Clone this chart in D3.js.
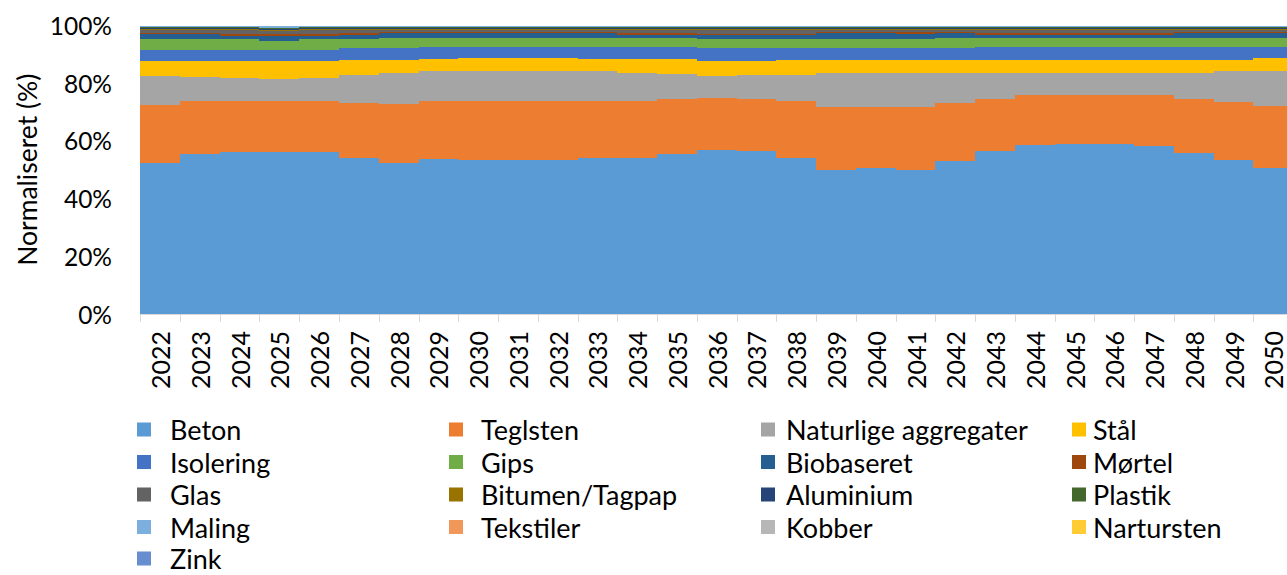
<!DOCTYPE html>
<html>
<head>
<meta charset="utf-8">
<script src="https://cdn.jsdelivr.net/npm/d3@7"></script>
<style>
  html, body { margin: 0; padding: 0; background: #fff; overflow: hidden; }
  svg { display: block; }
  text { font-family: Lato, "Open Sans", sans-serif; fill: #000; }
</style>
</head>
<body>
<svg id="chart" width="1287" height="575"></svg>
<script>
// Materialeforbrug fordelt på materialer, normaliseret pr. år (andel i %)
const years = [2022, 2023, 2024, 2025, 2026, 2027, 2028, 2029, 2030, 2031,
               2032, 2033, 2034, 2035, 2036, 2037, 2038, 2039, 2040, 2041,
               2042, 2043, 2044, 2045, 2046, 2047, 2048, 2049, 2050];

const beton      = [52.5, 55.6, 56.2, 56.2, 56.2, 54.1, 52.5, 53.9, 53.3, 53.3,
                    53.3, 54.2, 54.2, 55.6, 57.0, 56.4, 54.2, 50.1, 50.5, 50.1,
                    53.2, 56.7, 58.5, 58.9, 58.9, 58.2, 56.0, 53.5, 50.5];
const teglsten   = [20.1, 18.1, 17.8, 17.8, 17.8, 19.2, 20.4, 20.0, 20.4, 20.4,
                    20.4, 19.8, 19.5, 18.8, 17.8, 18.0, 19.5, 21.6, 21.2, 21.6,
                    20.1, 18.0, 17.4, 17.0, 17.0, 17.7, 18.4, 20.1, 21.6];
const naturligeAggregater = [9.9, 8.4, 7.8, 7.4, 7.8, 9.6, 10.7, 10.2, 10.7, 10.7,
                    10.4, 10.1, 9.9, 8.9, 7.7, 8.4, 9.1, 11.9, 11.9, 11.9,
                    10.3, 8.9, 7.7, 7.7, 7.7, 7.7, 9.2, 10.5, 12.3];
const staal      = [5.4, 5.8, 6.1, 6.5, 6.1, 5.3, 4.6, 4.4, 4.3, 4.3,
                    4.6, 4.4, 4.9, 5.2, 5.4, 5.1, 5.4, 4.6, 4.6, 4.6,
                    4.6, 4.6, 4.6, 4.6, 4.6, 4.6, 4.6, 4.1, 4.3];
const isolering  = [3.8, 3.8, 3.8, 3.8, 3.8, 3.9, 3.9, 4.0, 3.8, 3.8,
                    3.8, 4.0, 4.0, 4.0, 4.2, 4.2, 3.9, 3.9, 3.9, 3.9,
                    3.9, 4.3, 4.3, 4.3, 4.3, 4.3, 4.3, 4.3, 3.8];
const gips       = [3.5, 3.5, 3.5, 3.1, 3.5, 3.1, 3.5, 3.1, 3.1, 3.1,
                    3.1, 3.1, 3.1, 3.1, 3.1, 3.1, 3.1, 3.1, 3.1, 3.1,
                    3.5, 3.1, 3.1, 3.1, 3.1, 3.1, 3.1, 3.1, 3.1];
const biobaseret = [1.8, 1.8, 1.2, 1.6, 1.2, 1.7, 1.7, 1.7, 1.7, 1.7,
                    1.7, 1.7, 1.2, 1.2, 1.4, 1.4, 1.4, 2.1, 2.1, 1.9,
                    1.7, 1.1, 1.1, 1.1, 1.1, 1.1, 1.7, 1.7, 1.7];
const moertel    = [0.6, 0.6, 0.6, 0.6, 0.6, 0.6, 0.6, 0.6, 0.6, 0.6,
                    0.6, 0.6, 0.6, 0.6, 0.6, 0.6, 0.6, 0.6, 0.6, 0.6,
                    0.6, 0.6, 0.6, 0.6, 0.6, 0.6, 0.6, 0.6, 0.6];
const glas       = [0.9, 0.9, 1.5, 1.1, 1.5, 1.0, 0.6, 0.6, 0.6, 0.6,
                    0.6, 0.6, 1.1, 1.1, 1.3, 1.3, 1.3, 0.6, 0.6, 0.8,
                    0.6, 1.2, 1.2, 1.2, 1.2, 1.2, 0.6, 0.6, 0.6];
const bitumen    = [0.5, 0.5, 0.5, 0.5, 0.5, 0.5, 0.5, 0.5, 0.5, 0.5,
                    0.5, 0.5, 0.5, 0.5, 0.5, 0.5, 0.5, 0.5, 0.5, 0.5,
                    0.5, 0.5, 0.5, 0.5, 0.5, 0.5, 0.5, 0.5, 0.5];
const aluminium  = [0.3, 0.3, 0.3, 0.3, 0.3, 0.3, 0.3, 0.3, 0.3, 0.3,
                    0.3, 0.3, 0.3, 0.3, 0.3, 0.3, 0.3, 0.3, 0.3, 0.3,
                    0.3, 0.3, 0.3, 0.3, 0.3, 0.3, 0.3, 0.3, 0.3];
const plastik    = [0.4, 0.4, 0.4, 0.4, 0.4, 0.4, 0.4, 0.4, 0.4, 0.4,
                    0.4, 0.4, 0.4, 0.4, 0.4, 0.4, 0.4, 0.4, 0.4, 0.4,
                    0.4, 0.4, 0.4, 0.4, 0.4, 0.4, 0.4, 0.4, 0.4];
const maling     = [0.1, 0.1, 0.1, 0.5, 0.1, 0.1, 0.1, 0.1, 0.1, 0.1,
                    0.1, 0.1, 0.1, 0.1, 0.1, 0.1, 0.1, 0.1, 0.1, 0.1,
                    0.1, 0.1, 0.1, 0.1, 0.1, 0.1, 0.1, 0.1, 0.1];
const tekstiler  = [0.05, 0.05, 0.05, 0.05, 0.05, 0.05, 0.05, 0.05, 0.05, 0.05,
                    0.05, 0.05, 0.05, 0.05, 0.05, 0.05, 0.05, 0.05, 0.05, 0.05,
                    0.05, 0.05, 0.05, 0.05, 0.05, 0.05, 0.05, 0.05, 0.05];
const kobber     = [0.1, 0.1, 0.1, 0.1, 0.1, 0.1, 0.1, 0.1, 0.1, 0.1,
                    0.1, 0.1, 0.1, 0.1, 0.1, 0.1, 0.1, 0.1, 0.1, 0.1,
                    0.1, 0.1, 0.1, 0.1, 0.1, 0.1, 0.1, 0.1, 0.1];
const natursten  = [0.05, 0.05, 0.05, 0.05, 0.05, 0.05, 0.05, 0.05, 0.05, 0.05,
                    0.05, 0.05, 0.05, 0.05, 0.05, 0.05, 0.05, 0.05, 0.05, 0.05,
                    0.05, 0.05, 0.05, 0.05, 0.05, 0.05, 0.05, 0.05, 0.05];
const zink       = [0.05, 0.05, 0.05, 0.05, 0.05, 0.05, 0.05, 0.05, 0.05, 0.05,
                    0.05, 0.05, 0.05, 0.05, 0.05, 0.05, 0.05, 0.05, 0.05, 0.05,
                    0.05, 0.05, 0.05, 0.05, 0.05, 0.05, 0.05, 0.05, 0.05];

const seriesNames = ["Beton", "Teglsten", "Naturlige aggregater", "Stål",
                     "Isolering", "Gips", "Biobaseret", "Mørtel",
                     "Glas", "Bitumen/Tagpap", "Aluminium", "Plastik",
                     "Maling", "Tekstiler", "Kobber", "Nartursten", "Zink"];
const seriesValues = [beton, teglsten, naturligeAggregater, staal,
                      isolering, gips, biobaseret, moertel,
                      glas, bitumen, aluminium, plastik,
                      maling, tekstiler, kobber, natursten, zink];
const seriesColors = ["#5B9BD5", "#ED7D31", "#A5A5A5", "#FFC000",
                      "#4472C4", "#70AD47", "#255E91", "#9E480E",
                      "#636363", "#997300", "#264478", "#43682B",
                      "#7CAFDD", "#F1975A", "#B7B7B7", "#FFCD33", "#698ED0"];
const yTicks = [0, 0.2, 0.4, 0.6, 0.8, 1.0];

// Rows for the stack layout: one object per year
const rows = years.map((yr, i) => {
  const r = { year: yr };
  seriesNames.forEach((n, k) => { r[n] = seriesValues[k][i]; });
  return r;
});

const stacked = d3.stack()
  .keys(seriesNames)
  .offset(d3.stackOffsetExpand)(rows);

const svg = d3.select("#chart");

// Plot area (the category axis runs slightly past the right edge of the page)
const plot = { left: 140.2, right: 140.2 + 29 * 39.76, top: 25.5, bottom: 314 };

const x = d3.scaleBand()
  .domain(years)
  .range([plot.left, plot.right])
  .paddingInner(0)
  .paddingOuter(0);

const y = d3.scaleLinear()
  .domain([0, 1])
  .range([plot.bottom, plot.top]);

const color = d3.scaleOrdinal().domain(seriesNames).range(seriesColors);

// Stacked columns with no gap between categories
const layers = svg.append("g")
  .selectAll("g")
  .data(stacked)
  .join("g")
  .attr("fill", d => color(d.key));

layers.selectAll("rect")
  .data(d => d)
  .join("rect")
  .attr("x", d => x(d.data.year))
  .attr("width", x.bandwidth())
  .attr("y", d => y(d[1]))
  .attr("height", d => Math.max(0, y(d[0]) - y(d[1])))
  .attr("shape-rendering", "crispEdges");

// Category axis: light line with tick marks between categories
const xAxisG = svg.append("g");
xAxisG.append("line")
  .attr("x1", plot.left).attr("x2", plot.right)
  .attr("y1", plot.bottom + 0.5).attr("y2", plot.bottom + 0.5)
  .attr("stroke", "#D9D9D9").attr("stroke-width", 1);
xAxisG.selectAll("line.tick")
  .data(years.concat([null]))
  .join("line")
  .attr("class", "tick")
  .attr("x1", (d, i) => Math.round(plot.left + i * x.step()) + 0.5)
  .attr("x2", (d, i) => Math.round(plot.left + i * x.step()) + 0.5)
  .attr("y1", plot.bottom)
  .attr("y2", plot.bottom + 8)
  .attr("stroke", "#D9D9D9").attr("stroke-width", 1);

xAxisG.selectAll("text")
  .data(years)
  .join("text")
  .attr("transform", d => `translate(${x(d) + x.bandwidth() / 2},${plot.bottom + 17}) rotate(-90)`)
  .attr("text-anchor", "end")
  .attr("dominant-baseline", "central")
  .style("font-size", "25px")
  .text(d => d);

// Value axis labels
svg.append("g")
  .selectAll("text")
  .data(yTicks)
  .join("text")
  .attr("x", 112)
  .attr("y", d => y(d))
  .attr("text-anchor", "end")
  .attr("dominant-baseline", "central")
  .style("font-size", "24.5px")
  .text(d => d3.format(".0%")(d));

svg.append("text")
  .attr("transform", `translate(27,${(plot.top + plot.bottom) / 2}) rotate(-90)`)
  .attr("text-anchor", "middle")
  .attr("dominant-baseline", "central")
  .style("font-size", "26.5px")
  .text("Normaliseret (%)");

// Legend: four columns, filled row by row
const legendSwatchX = [137, 449, 761, 1072];
const legendTextX = [170, 481, 786, 1093];
const legendRowY = [429.5, 462, 494.5, 527, 558.5];
const legend = svg.append("g")
  .selectAll("g")
  .data(seriesNames)
  .join("g")
  .attr("transform", (d, i) => `translate(0,${legendRowY[Math.floor(i / 4)]})`);

legend.append("rect")
  .attr("x", (d, i) => legendSwatchX[i % 4]).attr("y", -7)
  .attr("width", 14).attr("height", 14)
  .attr("fill", d => color(d));

legend.append("text")
  .attr("x", (d, i) => legendTextX[i % 4])
  .attr("y", 0)
  .attr("dominant-baseline", "central")
  .style("font-size", "27px")
  .text(d => d);
</script>
</body>
</html>
